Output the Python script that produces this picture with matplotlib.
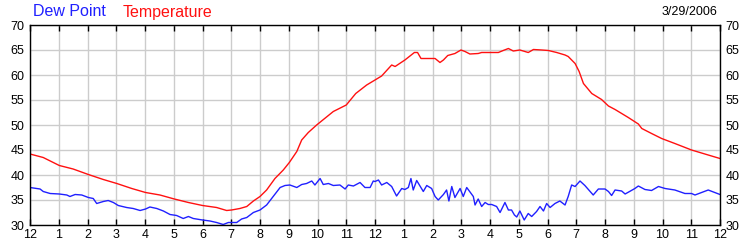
import matplotlib
matplotlib.use("Agg")
import matplotlib.pyplot as plt

plt.rcParams['font.family'] = ['Liberation Sans', 'DejaVu Sans']

# Hours since midnight (0..24) and readings
dew_hours = [0, 0.35, 0.46, 0.70, 1.02, 1.28, 1.39, 1.57, 1.80, 2.03, 2.20, 2.32, 2.55, 2.72, 2.90,
             3.07, 3.36, 3.59, 3.83, 4.02, 4.17, 4.41, 4.64, 4.87, 5.10, 5.33, 5.51, 5.68, 6.0,
             6.26, 6.49, 6.72, 6.90, 7.19, 7.36, 7.54, 7.77, 8.0, 8.23, 8.46, 8.70, 8.87, 9.04,
             9.28, 9.45, 9.62, 9.80, 9.91, 10.09, 10.20, 10.38, 10.55, 10.78, 10.96, 11.07,
             11.25, 11.48, 11.65, 11.83, 11.94,
             12.0, 12.12, 12.23, 12.41, 12.58, 12.75, 12.93, 13.04, 13.16, 13.25, 13.33, 13.45,
             13.68, 13.80, 13.97, 14.09, 14.20, 14.38, 14.49, 14.57, 14.67, 14.78, 14.96, 15.07,
             15.19, 15.42, 15.48, 15.59, 15.71, 15.83, 15.94, 16.06, 16.23, 16.35, 16.52, 16.64,
             16.75, 16.85, 16.93, 17.04, 17.19, 17.33, 17.45, 17.62, 17.74, 17.86, 17.97, 18.09,
             18.26, 18.43, 18.61, 18.72, 18.84, 18.96, 19.13, 19.30, 19.48, 19.59, 19.77, 20.0,
             20.12, 20.23, 20.35, 20.58, 20.70, 21.04, 21.16, 21.39, 21.62, 21.86, 22.09, 22.43,
             22.78, 23.01, 23.13, 23.36, 23.59, 24.0]
dew_point = [37.5, 37.2, 36.7, 36.3, 36.2, 36.0, 35.7, 36.1, 36.0, 35.5, 35.3, 34.3, 34.7, 34.9, 34.5,
             33.9, 33.5, 33.3, 32.9, 33.2, 33.6, 33.3, 32.8, 32.1, 31.9, 31.3, 31.7, 31.3, 31.0,
             30.8, 30.5, 30.1, 30.5, 30.5, 31.2, 31.5, 32.5, 33.0, 34.0, 35.7, 37.5, 37.9, 38.0,
             37.5, 38.1, 38.3, 38.8, 38.0, 39.3, 38.1, 38.3, 37.9, 38.0, 37.2, 38.0,
             37.8, 38.5, 37.5, 37.5, 38.8,
             38.7, 39.0, 38.0, 38.5, 37.7, 35.8, 37.3, 37.1, 37.5, 39.3, 37.0, 38.9,
             36.7, 37.9, 37.3, 35.7, 35.0, 36.1, 37.0, 34.8, 37.7, 35.5, 37.3, 35.7,
             37.5, 35.7, 34.0, 35.2, 33.7, 34.5, 34.1, 34.1, 33.7, 32.5, 34.5, 33.0,
             33.0, 32.0, 31.6, 32.8, 31.0, 32.3, 31.7, 32.7, 33.7, 32.8, 34.3, 33.5,
             34.3, 34.8, 34.0, 35.7, 38.0, 37.7, 38.8, 37.9, 36.7, 36.0, 37.2, 37.2,
             36.7, 35.9, 37.0, 36.8, 36.2, 37.3, 37.8, 37.1, 36.9, 37.7, 37.3, 37.0,
             36.3, 36.3, 36.0, 36.5, 37.0, 36.1]

temp_hours = [0, 0.46, 1.02, 1.5, 2.03, 2.55, 3.02, 3.54, 4.02, 4.52, 5.02, 5.51, 6.0, 6.49, 6.84,
              7.01, 7.30, 7.54, 7.77, 8.0, 8.23, 8.52, 8.81, 9.02, 9.28, 9.45, 9.68, 9.97,
              10.55, 11.0, 11.33, 11.71, 12.0, 12.23, 12.58, 12.70, 13.04, 13.37, 13.48, 13.60,
              14.09, 14.26, 14.38, 14.53, 14.78, 14.99, 15.13, 15.30, 15.59, 15.71, 16.29, 16.46,
              16.64, 16.81, 17.04, 17.33, 17.51, 17.80, 18.03, 18.32, 18.61, 18.72, 18.96, 19.10,
              19.25, 19.54, 19.88, 20.12, 20.35, 20.58, 20.81, 21.16, 21.28, 21.62, 21.97, 22.43,
              23.01, 23.59, 24.0]
temperature = [44.2, 43.5, 41.9, 41.2, 40.1, 39.1, 38.3, 37.3, 36.5, 36.0, 35.2, 34.5, 33.9, 33.5, 32.9,
               33.0, 33.3, 33.7, 34.8, 35.7, 37.0, 39.3, 41.0, 42.5, 44.7, 47.0, 48.5, 50.0,
               52.7, 54.0, 56.3, 58.0, 59.0, 59.8, 62.0, 61.7, 63.0, 64.5, 64.5, 63.3,
               63.3, 62.5, 63.0, 63.9, 64.3, 65.0, 64.7, 64.2, 64.3, 64.5, 64.5, 64.9,
               65.3, 64.8, 65.0, 64.5, 65.1, 65.0, 64.9, 64.5, 64.0, 63.7, 62.3, 60.7,
               58.3, 56.3, 55.1, 53.8, 53.1, 52.3, 51.5, 50.2, 49.3, 48.3, 47.3, 46.3,
               45.0, 44.0, 43.3]

hour_ticks = list(range(0, 25))
hour_labels = ['12'] + [str(i) for i in range(1, 12)] + ['12'] + [str(i) for i in range(1, 12)] + ['12']
y_ticks = [30, 35, 40, 45, 50, 55, 60, 65, 70]
date_label = "3/29/2006"

fig = plt.figure(figsize=(7.5, 2.5), dpi=100)
ax = fig.add_axes([0.04, 0.1, 0.92, 0.8])

ax.plot(dew_hours, dew_point, color='#2020ff', lw=1.0)
ax.plot(temp_hours, temperature, color='#ff1010', lw=1.0)

ax.set_xlim(0, 24)
ax.set_ylim(30, 70)
ax.set_xticks(hour_ticks)
ax.set_xticklabels(hour_labels, fontsize=9)
ax.set_yticks(y_ticks)
ax.set_yticklabels([str(v) for v in y_ticks], fontsize=9)
ax.tick_params(axis='x', direction='in', length=4, width=1, top=True, bottom=True, pad=3)
ax.tick_params(axis='y', length=0, left=True, right=True, labelleft=True, labelright=True, pad=4)
ax.grid(True, color='#cccccc', lw=1.0)
ax.set_axisbelow(True)
for s in ax.spines.values():
    s.set_color('black')
    s.set_linewidth(1.0)

fig.text(33 / 750, 1 - 12 / 250, "Dew Point", color='#2020ff', fontsize=11.5, va='center', ha='left')
fig.text(123 / 750, 1 - 12 / 250, "Temperature", color='#ff1010', fontsize=11.5, va='center', ha='left')
fig.text(717 / 750, 1 - 12 / 250, date_label, color='black', fontsize=9, va='center', ha='right')

fig.savefig("out.png", dpi=100)
